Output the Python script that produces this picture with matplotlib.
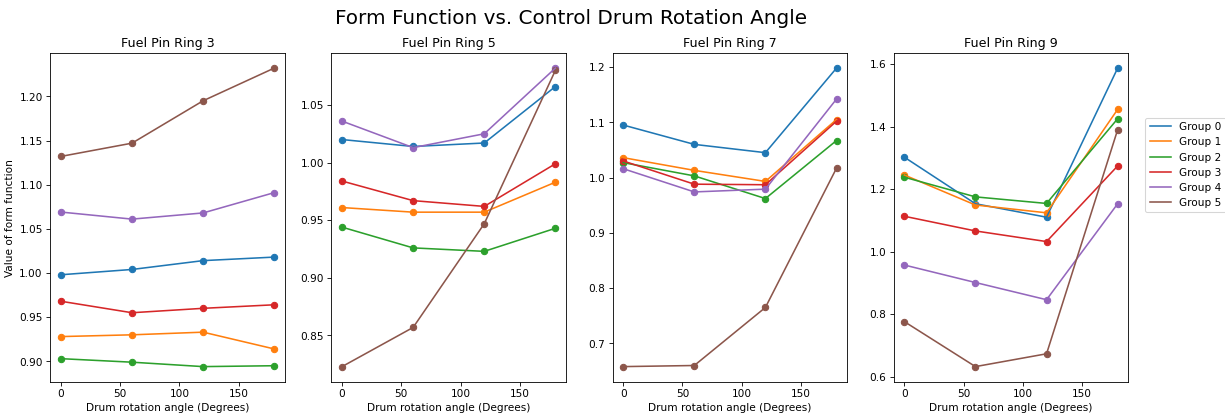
import matplotlib
matplotlib.use("Agg")
import matplotlib.pyplot as plt

# drum rotation angles (degrees)
angles = [0, 60, 120, 180]
groups = ["Group 0", "Group 1", "Group 2", "Group 3", "Group 4", "Group 5"]

# form function per group, one list per fuel pin ring
ring3 = [
    [0.998, 1.004, 1.014, 1.018],
    [0.928, 0.930, 0.933, 0.914],
    [0.903, 0.899, 0.894, 0.895],
    [0.968, 0.955, 0.960, 0.964],
    [1.069, 1.061, 1.068, 1.091],
    [1.132, 1.147, 1.195, 1.232],
]
ring5 = [
    [1.020, 1.014, 1.017, 1.066],
    [0.961, 0.957, 0.957, 0.983],
    [0.944, 0.926, 0.923, 0.943],
    [0.984, 0.967, 0.962, 0.999],
    [1.036, 1.013, 1.025, 1.082],
    [0.823, 0.857, 0.947, 1.080],
]
ring7 = [
    [1.095, 1.060, 1.045, 1.198],
    [1.036, 1.013, 0.993, 1.105],
    [1.027, 1.003, 0.962, 1.067],
    [1.030, 0.988, 0.987, 1.102],
    [1.016, 0.974, 0.979, 1.142],
    [0.658, 0.660, 0.765, 1.017],
]
ring9 = [
    [1.302, 1.153, 1.110, 1.587],
    [1.245, 1.149, 1.124, 1.455],
    [1.238, 1.175, 1.154, 1.425],
    [1.113, 1.066, 1.032, 1.274],
    [0.957, 0.901, 0.846, 1.153],
    [0.776, 0.632, 0.673, 1.390],
]
rings = [("Fuel Pin Ring 3", ring3), ("Fuel Pin Ring 5", ring5),
         ("Fuel Pin Ring 7", ring7), ("Fuel Pin Ring 9", ring9)]

fig, axes = plt.subplots(1, 4, figsize=(16.12, 5.49))
fig.subplots_adjust(left=0.041, right=0.921, top=0.872, bottom=0.085, wspace=0.198)

for ax, (titulo, dados) in zip(axes, rings):
    for i, serie in enumerate(dados):
        cor = f"C{i}"
        ax.plot(angles, serie, color=cor, label=groups[i])
        ax.scatter(angles, serie, color=cor)
    ax.set_title(titulo)
    ax.set_xlabel("Drum rotation angle (Degrees)")

axes[0].set_ylabel("Value of form function")
axes[-1].legend(loc="upper left", bbox_to_anchor=(1.05, 0.82))
fig.suptitle("Form Function vs. Control Drum Rotation Angle", fontsize=19,
             x=0.4665, y=0.978)

fig.savefig("out.png", dpi=76)
